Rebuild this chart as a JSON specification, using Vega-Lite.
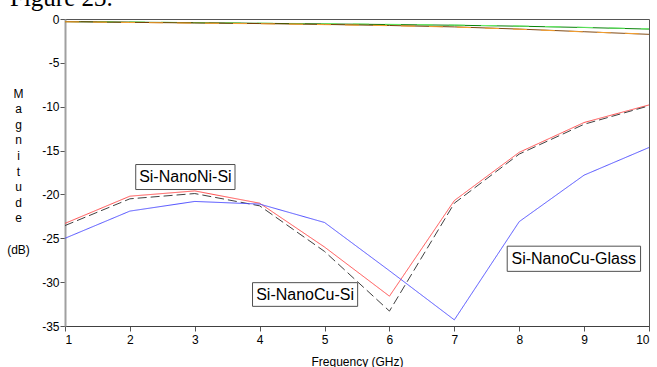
{
  "$schema": "https://vega.github.io/schema/vega-lite/v6.json",
  "autosize": {"type": "none"},
  "width": 584,
  "height": 307,
  "padding": {"left": 65, "top": 19, "right": 8, "bottom": 41},
  "background": "white",
  "title": {"text": "Figure 23.", "anchor": "start", "frame": "group", "font": "Liberation Serif", "fontSize": 25, "fontWeight": "normal", "baseline": "alphabetic", "offset": -18, "dx": -55, "color": "black"},
  "config": {
    "view": {"stroke": "#555555", "strokeWidth": 1},
    "axis": {"grid": false, "labelFont": "Liberation Sans", "labelFontSize": 12, "labelColor": "black", "tickColor": "#555555", "tickSize": 5, "titleFont": "Liberation Sans", "titleFontSize": 12, "titleFontWeight": "normal", "titleColor": "black"}
  },
  "datasets": {
    "curves": [
      {"freq": 1, "value": -0.30, "series": "S21 A"}, {"freq": 2, "value": -0.36, "series": "S21 A"}, {"freq": 3, "value": -0.42, "series": "S21 A"}, {"freq": 4, "value": -0.49, "series": "S21 A"}, {"freq": 5, "value": -0.56, "series": "S21 A"}, {"freq": 6, "value": -0.63, "series": "S21 A"}, {"freq": 7, "value": -0.71, "series": "S21 A"}, {"freq": 8, "value": -0.82, "series": "S21 A"}, {"freq": 9, "value": -0.97, "series": "S21 A"}, {"freq": 10, "value": -1.15, "series": "S21 A"},
      {"freq": 1, "value": -0.28, "series": "S21 B"}, {"freq": 2, "value": -0.34, "series": "S21 B"}, {"freq": 3, "value": -0.41, "series": "S21 B"}, {"freq": 4, "value": -0.48, "series": "S21 B"}, {"freq": 5, "value": -0.54, "series": "S21 B"}, {"freq": 6, "value": -0.61, "series": "S21 B"}, {"freq": 7, "value": -0.69, "series": "S21 B"}, {"freq": 8, "value": -0.80, "series": "S21 B"}, {"freq": 9, "value": -0.95, "series": "S21 B"}, {"freq": 10, "value": -1.12, "series": "S21 B"},
      {"freq": 1, "value": -0.30, "series": "S21 C"}, {"freq": 2, "value": -0.38, "series": "S21 C"}, {"freq": 3, "value": -0.45, "series": "S21 C"}, {"freq": 4, "value": -0.52, "series": "S21 C"}, {"freq": 5, "value": -0.62, "series": "S21 C"}, {"freq": 6, "value": -0.74, "series": "S21 C"}, {"freq": 7, "value": -0.90, "series": "S21 C"}, {"freq": 8, "value": -1.15, "series": "S21 C"}, {"freq": 9, "value": -1.45, "series": "S21 C"}, {"freq": 10, "value": -1.75, "series": "S21 C"},
      {"freq": 1, "value": -0.32, "series": "S21 D"}, {"freq": 2, "value": -0.40, "series": "S21 D"}, {"freq": 3, "value": -0.47, "series": "S21 D"}, {"freq": 4, "value": -0.54, "series": "S21 D"}, {"freq": 5, "value": -0.64, "series": "S21 D"}, {"freq": 6, "value": -0.76, "series": "S21 D"}, {"freq": 7, "value": -0.92, "series": "S21 D"}, {"freq": 8, "value": -1.17, "series": "S21 D"}, {"freq": 9, "value": -1.47, "series": "S21 D"}, {"freq": 10, "value": -1.72, "series": "S21 D"},
      {"freq": 1, "value": -23.3, "series": "Si-NanoNi-Si"}, {"freq": 2, "value": -20.2, "series": "Si-NanoNi-Si"}, {"freq": 3, "value": -19.6, "series": "Si-NanoNi-Si"}, {"freq": 4, "value": -21.0, "series": "Si-NanoNi-Si"}, {"freq": 5, "value": -26.0, "series": "Si-NanoNi-Si"}, {"freq": 6, "value": -31.6, "series": "Si-NanoNi-Si"}, {"freq": 7, "value": -20.7, "series": "Si-NanoNi-Si"}, {"freq": 8, "value": -15.2, "series": "Si-NanoNi-Si"}, {"freq": 9, "value": -11.8, "series": "Si-NanoNi-Si"}, {"freq": 10, "value": -9.8, "series": "Si-NanoNi-Si"},
      {"freq": 1, "value": -23.55, "series": "Si-NanoCu-Si"}, {"freq": 2, "value": -20.5, "series": "Si-NanoCu-Si"}, {"freq": 3, "value": -19.9, "series": "Si-NanoCu-Si"}, {"freq": 4, "value": -21.3, "series": "Si-NanoCu-Si"}, {"freq": 5, "value": -26.5, "series": "Si-NanoCu-Si"}, {"freq": 6, "value": -33.3, "series": "Si-NanoCu-Si"}, {"freq": 7, "value": -21.0, "series": "Si-NanoCu-Si"}, {"freq": 8, "value": -15.4, "series": "Si-NanoCu-Si"}, {"freq": 9, "value": -12.0, "series": "Si-NanoCu-Si"}, {"freq": 10, "value": -9.9, "series": "Si-NanoCu-Si"},
      {"freq": 1, "value": -25.0, "series": "Si-NanoCu-Glass"}, {"freq": 2, "value": -21.9, "series": "Si-NanoCu-Glass"}, {"freq": 3, "value": -20.8, "series": "Si-NanoCu-Glass"}, {"freq": 4, "value": -21.1, "series": "Si-NanoCu-Glass"}, {"freq": 5, "value": -23.2, "series": "Si-NanoCu-Glass"}, {"freq": 6, "value": -28.7, "series": "Si-NanoCu-Glass"}, {"freq": 7, "value": -34.3, "series": "Si-NanoCu-Glass"}, {"freq": 8, "value": -23.1, "series": "Si-NanoCu-Glass"}, {"freq": 9, "value": -17.8, "series": "Si-NanoCu-Glass"}, {"freq": 10, "value": -14.65, "series": "Si-NanoCu-Glass"}
    ],
    "labels": [
      {"label": "Si-NanoNi-Si", "x1": 2.09, "x2": 3.62, "y1": -16.59, "y2": -19.44, "xc": 2.855, "yc": -18.0},
      {"label": "Si-NanoCu-Si", "x1": 3.89, "x2": 5.51, "y1": -30.06, "y2": -32.76, "xc": 4.70, "yc": -31.41},
      {"label": "Si-NanoCu-Glass", "x1": 7.815, "x2": 9.87, "y1": -25.9, "y2": -28.77, "xc": 8.84, "yc": -27.33}
    ]
  },
  "layer": [
    {
      "data": {"name": "curves"},
      "mark": {"type": "line", "strokeWidth": 1, "clip": true},
      "encoding": {
        "x": {"field": "freq", "type": "quantitative", "scale": {"domain": [1, 10], "nice": false, "zero": false},
              "axis": {"values": [1, 2, 3, 4, 5, 6, 7, 8, 9, 10], "labelExpr": "datum.value + ''", "title": "Frequency (GHz)", "domainColor": "#404040", "labelPadding": 3, "titlePadding": 11}},
        "y": {"field": "value", "type": "quantitative", "scale": {"domain": [-35, 0], "nice": false, "zero": false},
              "axis": {"values": [0, -5, -10, -15, -20, -25, -30, -35], "labelExpr": "datum.value + ''", "domainColor": "#a0a0a0", "domainWidth": 2, "labelPadding": 1,
                       "title": ["M", "a", "g", "n", "i", "t", "u", "d", "e", "\u200b", "(dB)"], "titleAngle": 0, "titleAlign": "center", "titleBaseline": "top", "titleX": -47, "titleY": 69, "titleLineHeight": 15.6}},
        "color": {"field": "series", "type": "nominal", "legend": null,
                  "scale": {"domain": ["S21 A", "S21 B", "S21 C", "S21 D", "Si-NanoNi-Si", "Si-NanoCu-Si", "Si-NanoCu-Glass"],
                            "range": ["#008000", "#66ee66", "#7a3d00", "#f5a030", "#ff4d4d", "#404040", "#5050ff"]}},
        "strokeDash": {"field": "series", "type": "nominal", "legend": null,
                       "scale": {"domain": ["S21 A", "S21 B", "S21 C", "S21 D", "Si-NanoNi-Si", "Si-NanoCu-Si", "Si-NanoCu-Glass"],
                                 "range": [[1, 0], [16, 16], [1, 0], [14, 14], [1, 0], [9, 4], [1, 0]]}}
      }
    },
    {
      "data": {"name": "labels"},
      "mark": {"type": "rect", "fill": "white", "stroke": "#505050", "strokeWidth": 1},
      "encoding": {
        "x": {"field": "x1", "type": "quantitative"},
        "x2": {"field": "x2"},
        "y": {"field": "y1", "type": "quantitative"},
        "y2": {"field": "y2"}
      }
    },
    {
      "data": {"name": "labels"},
      "mark": {"type": "text", "font": "Liberation Sans", "fontSize": 16, "color": "black", "align": "center", "baseline": "middle"},
      "encoding": {
        "x": {"field": "xc", "type": "quantitative"},
        "y": {"field": "yc", "type": "quantitative"},
        "text": {"field": "label"}
      }
    }
  ]
}
